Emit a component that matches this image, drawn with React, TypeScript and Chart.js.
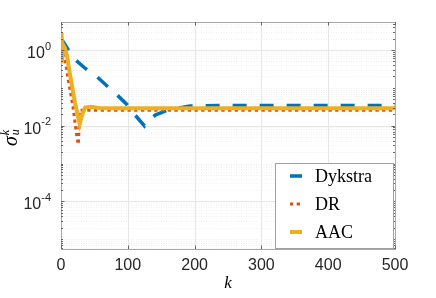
import { useEffect, useRef } from 'react';
import { Chart, registerables } from 'chart.js';

Chart.register(...registerables);

// ---- data ----
const dykstraK = [0, 6, 18, 36, 54, 69, 84, 99, 111, 125, 132, 141, 160, 193, 240, 500];
const dykstraV = [2.0, 1.4, 0.62, 0.33, 0.195, 0.112, 0.065, 0.036, 0.019, 0.0098, 0.014, 0.019, 0.026, 0.033, 0.034, 0.034];

const drK = [0, 5, 10, 18, 24, 26, 28, 500];
const drV = [1.8, 0.79, 0.2, 0.0316, 0.0047, 0.0032, 0.0257, 0.0257];

const aacK = [0, 1, 4, 6, 9, 13, 21, 28, 32, 36, 45, 60, 500];
const aacV = [2.8, 0.45, 1.3, 1.12, 0.71, 0.25, 0.04, 0.0112, 0.02, 0.03, 0.0316, 0.029, 0.029];

const seriesNames = ['Dykstra', 'DR', 'AAC'];
const xTickValues = [0, 100, 200, 300, 400, 500];
const yTickExps = [0, -2, -4];
const X_MIN = 0;
const X_MAX = 500;
const Y_MIN = 5.5e-6;
const Y_MAX = 5.5;

const BLUE = '#0072BD';
const RED = '#D95319';
const YELLOW = '#EDB120';
const TEXT = '#262626';
const SANS = '"Liberation Sans", Arial, sans-serif';
const SERIF = '"Liberation Serif", "Times New Roman", serif';

const matlabPlugin = {
  id: 'matlabLook',
  beforeDatasetsDraw(chart: any) {
    const { ctx, chartArea: a, scales } = chart;
    const x = scales.x;
    const y = scales.y;
    ctx.save();
    ctx.lineWidth = 1;
    // y grid (minor dotted, major solid)
    for (let e = -6; e <= 1; e++) {
      for (let m = 1; m <= 9; m++) {
        const v = m * Math.pow(10, e);
        if (v <= Y_MIN || v >= Y_MAX) continue;
        const py = Math.round(y.getPixelForValue(v)) + 0.5;
        const major = m === 1 && yTickExps.includes(e);
        ctx.strokeStyle = major ? '#e6e6e6' : '#f0f0f0';
        ctx.setLineDash(major ? [] : [1, 1.5]);
        ctx.beginPath();
        ctx.moveTo(a.left, py);
        ctx.lineTo(a.right, py);
        ctx.stroke();
      }
    }
    ctx.setLineDash([]);
    ctx.strokeStyle = '#e6e6e6';
    for (const v of xTickValues) {
      const px = Math.round(x.getPixelForValue(v)) + 0.5;
      ctx.beginPath();
      ctx.moveTo(px, a.top);
      ctx.lineTo(px, a.bottom);
      ctx.stroke();
    }
    ctx.restore();
  },
  afterDatasetsDraw(chart: any) {
    const { ctx, chartArea: a, scales } = chart;
    const x = scales.x;
    const y = scales.y;
    ctx.save();
    // axes box
    ctx.strokeStyle = '#a8a8a8';
    ctx.lineWidth = 1;
    ctx.strokeRect(Math.round(a.left) + 0.5, Math.round(a.top) + 0.5, Math.round(a.right - a.left), Math.round(a.bottom - a.top));
    // tick marks
    ctx.strokeStyle = '#666666';
    for (const v of xTickValues) {
      const px = Math.round(x.getPixelForValue(v)) + 0.5;
      ctx.beginPath();
      ctx.moveTo(px, a.bottom);
      ctx.lineTo(px, a.bottom - 3.5);
      ctx.moveTo(px, a.top);
      ctx.lineTo(px, a.top + 3.5);
      ctx.stroke();
    }
    for (let e = -6; e <= 1; e++) {
      for (let m = 1; m <= 9; m++) {
        const v = m * Math.pow(10, e);
        if (v <= Y_MIN || v >= Y_MAX) continue;
        const py = Math.round(y.getPixelForValue(v)) + 0.5;
        const len = m === 1 && yTickExps.includes(e) ? 3.5 : 2;
        ctx.beginPath();
        ctx.moveTo(a.left, py);
        ctx.lineTo(a.left + len, py);
        ctx.moveTo(a.right, py);
        ctx.lineTo(a.right - len, py);
        ctx.stroke();
      }
    }
    // x tick labels
    ctx.fillStyle = TEXT;
    ctx.font = `16px ${SANS}`;
    ctx.textAlign = 'center';
    ctx.textBaseline = 'alphabetic';
    for (const v of xTickValues) {
      ctx.fillText(String(v), x.getPixelForValue(v), a.bottom + 21);
    }
    // y tick labels 10^e
    for (const e of yTickExps) {
      const py = y.getPixelForValue(Math.pow(10, e));
      const expStr = e === 0 ? '0' : '-' + String(-e);
      ctx.font = `16px ${SANS}`;
      const baseW = ctx.measureText('10').width;
      ctx.font = `11px ${SANS}`;
      const expW = ctx.measureText(expStr).width;
      const x0 = a.left - 10 - baseW - expW;
      ctx.textAlign = 'left';
      ctx.font = `16px ${SANS}`;
      ctx.fillText('10', x0, py + 8);
      ctx.font = `11px ${SANS}`;
      ctx.fillText(expStr, x0 + baseW, py - 0.5);
    }
    // x axis title
    ctx.fillStyle = '#000000';
    ctx.font = `italic 17px ${SERIF}`;
    ctx.textAlign = 'center';
    ctx.fillText('k', (a.left + a.right) / 2, 288);
    // y axis title: sigma_u^k rotated
    ctx.save();
    ctx.translate(17, 146);
    ctx.rotate(-Math.PI / 2);
    ctx.textAlign = 'left';
    ctx.font = `italic 20px ${SERIF}`;
    ctx.fillText('σ', 0, 0);
    const sw = ctx.measureText('σ').width;
    ctx.font = `italic 12px ${SERIF}`;
    ctx.fillText('u', sw + 1, 2);
    ctx.fillText('k', sw + 1, -8);
    ctx.restore();
    // legend
    const lx = 275.5, ly = 163.5, lw = 118, lh = 85;
    ctx.fillStyle = '#ffffff';
    ctx.fillRect(lx, ly, lw, lh);
    ctx.strokeStyle = '#a0a0a0';
    ctx.lineWidth = 1;
    ctx.strokeRect(lx, ly, lw, lh);
    const rows = [176, 204, 232];
    const cols = [BLUE, RED, YELLOW];
    for (let i = 0; i < 3; i++) {
      const ry = rows[i];
      ctx.strokeStyle = cols[i];
      ctx.lineCap = 'butt';
      if (i === 1) {
        ctx.lineWidth = 3;
        ctx.setLineDash([3.3, 3.4]);
      } else {
        ctx.lineWidth = i === 0 ? 3.5 : 4;
        ctx.setLineDash([]);
      }
      ctx.beginPath();
      ctx.moveTo(290, ry);
      ctx.lineTo(302, ry);
      ctx.stroke();
      ctx.setLineDash([]);
      ctx.fillStyle = '#000000';
      ctx.font = `18px ${SERIF}`;
      ctx.textAlign = 'left';
      ctx.textBaseline = 'middle';
      ctx.fillText(seriesNames[i], 315, ry + 1);
    }
    ctx.restore();
  },
};

export default function App() {
  const ref = useRef<HTMLCanvasElement | null>(null);
  useEffect(() => {
    if (!ref.current) return;
    const toPts = (ks: number[], vs: number[]) => ks.map((k, i) => ({ x: k, y: vs[i] }));
    const chart = new Chart(ref.current, {
      type: 'line',
      data: {
        datasets: [
          {
            label: seriesNames[0],
            data: toPts(dykstraK, dykstraV),
            borderColor: BLUE,
            borderWidth: 3.5,
            borderDash: [14, 13],
            borderCapStyle: 'butt',
            pointRadius: 0,
            tension: 0,
            fill: false,
            order: 3,
          },
          {
            label: seriesNames[1],
            data: toPts(drK, drV),
            borderColor: RED,
            borderWidth: 3,
            borderDash: [3.3, 3.4],
            borderCapStyle: 'butt',
            pointRadius: 0,
            tension: 0,
            fill: false,
            order: 2,
          },
          {
            label: seriesNames[2],
            data: toPts(aacK, aacV),
            borderColor: YELLOW,
            borderWidth: 4,
            pointRadius: 0,
            tension: 0,
            fill: false,
            order: 1,
          },
        ],
      },
      options: {
        responsive: false,
        animation: false,
        events: [],
        layout: { padding: { left: 61, right: 41, top: 22, bottom: 49 } },
        plugins: { legend: { display: false }, tooltip: { enabled: false } },
        scales: {
          x: { type: 'linear', min: X_MIN, max: X_MAX, display: false },
          y: { type: 'logarithmic', min: Y_MIN, max: Y_MAX, display: false },
        },
      },
      plugins: [matlabPlugin],
    } as any);
    return () => chart.destroy();
  }, []);
  return (
    <canvas
      ref={ref}
      width={436}
      height={298}
      style={{ position: 'fixed', left: 0, top: 0, width: 436, height: 298, background: '#fff' }}
    />
  );
}
